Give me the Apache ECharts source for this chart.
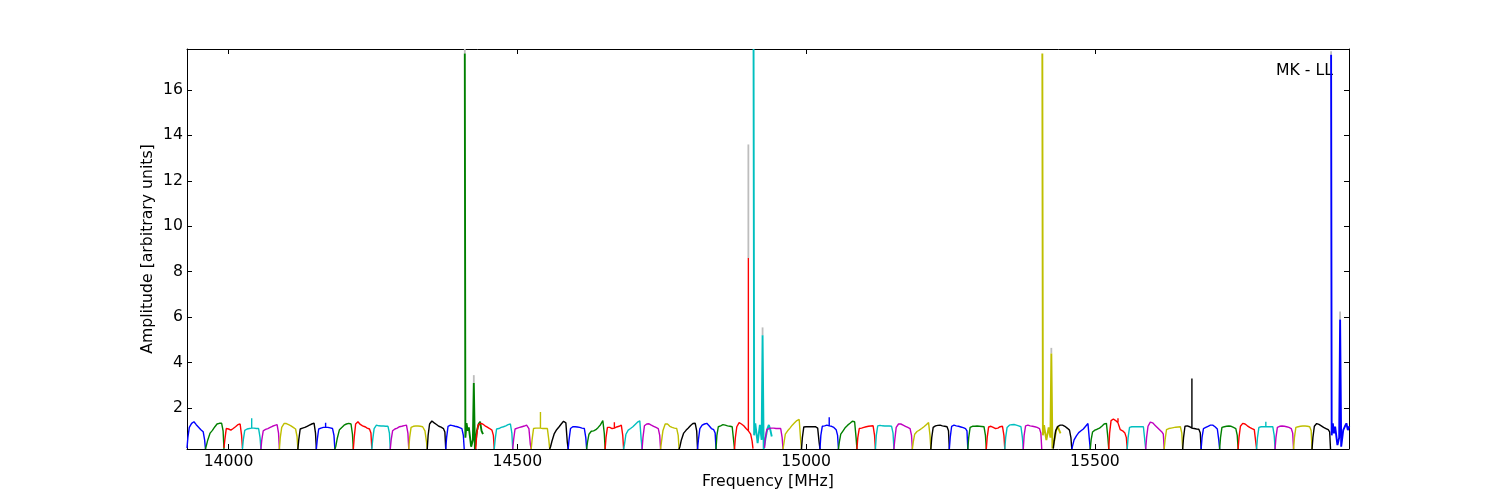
<!DOCTYPE html>
<html><head><meta charset="utf-8">
<script src="https://cdn.jsdelivr.net/npm/echarts@6/dist/echarts.min.js"></script>
<style>html,body{margin:0;padding:0;background:#fff}#c{width:1500px;height:500px}</style>
</head><body><div id="c"></div>
<script>
// ---------- data ----------
const colorCycle = ['#0000ff','#008000','#ff0000','#00bfbf','#bf00bf','#bfbf00','#000000'];
const xTicks = [14000, 14500, 15000, 15500];
const yTicks = [2, 4, 6, 8, 10, 12, 14, 16];
const xRange = [13928, 15940];
const yRange = [0.2, 17.8];

// channel start frequencies (MHz)
const chanStart = [
  13928, 13960, 13992, 14024, 14056, 14088, 14120, 14152, 14184, 14216, 14248, 14280, 14312, 14344, 14376, 14409,
  14428, 14460, 14492, 14524, 14556, 14588, 14620, 14652, 14684, 14716, 14748, 14780, 14812, 14844, 14876, 14909,
  14928, 14960, 14992, 15024, 15056, 15088, 15120, 15152, 15184, 15216, 15248, 15280, 15312, 15344, 15376, 15409,
  15428, 15460, 15492, 15524, 15556, 15588, 15620, 15652, 15684, 15716, 15748, 15780, 15812, 15844, 15876, 15909
];
const wigglyChannels = [15, 31, 47, 63];
// sample offsets inside a channel (MHz)
const normalOffsets = [0, 1.5, 4, 8, 12, 16, 20, 24, 28, 30.5, 32];
const wigglyOffsets = [0, 1, 3, 5, 7, 11, 14, 15.6, 17.5, 21, 24, 26.5, 29, 31.5];

const chanValuesA = [
  [0.24, 0.7, 1.15, 1.33, 1.40, 1.27, 1.16, 1.05, 0.96, 0.6, 0.2],
  [0.2, 0.35, 0.6, 0.9, 1.02, 1.17, 1.3, 1.33, 1.33, 1.0, 0.2],
  [0.25, 0.6, 1.1, 1.08, 1.03, 1.1, 1.18, 1.27, 1.3, 0.8, 0.25],
  [0.2, 0.6, 1.02, 1.08, 1.1, 1.12, 1.12, 1.1, 1.1, 0.7, 0.2],
  [0.2, 0.6, 1.0, 1.06, 1.1, 1.15, 1.2, 1.24, 1.27, 0.9, 0.2],
  [0.2, 0.7, 1.15, 1.32, 1.32, 1.27, 1.22, 1.15, 1.08, 0.75, 0.2],
  [0.2, 0.6, 1.08, 1.12, 1.15, 1.2, 1.25, 1.3, 1.34, 0.9, 0.2],
  [0.2, 0.6, 1.08, 1.12, 1.15, 1.16, 1.15, 1.13, 1.1, 0.8, 0.2],
  [0.2, 0.3, 0.65, 1.05, 1.15, 1.25, 1.3, 1.33, 1.3, 0.85, 0.2],
  [0.2, 0.7, 1.3, 1.4, 1.28, 1.22, 1.18, 1.12, 1.08, 0.9, 0.22],
  [0.2, 0.6, 1.1, 1.25, 1.22, 1.21, 1.21, 1.2, 1.2, 0.9, 0.2],
  [0.2, 0.6, 1.0, 1.08, 1.12, 1.18, 1.2, 1.23, 1.25, 0.9, 0.2],
  [0.2, 0.7, 1.15, 1.2, 1.21, 1.21, 1.2, 1.18, 1.0, 0.55, 0.2],
  [0.2, 0.8, 1.3, 1.43, 1.35, 1.28, 1.2, 1.16, 1.1, 0.95, 0.2],
  [0.2, 0.7, 1.2, 1.25, 1.23, 1.2, 1.18, 1.14, 1.1, 0.8, 0.2],
  [17.6, 0.7, 1.34, 1.0, 1.15, 0.3, 0.6, 3.1, 0.2, 1.0, 1.3, 1.4, 1.0, 0.85]
];
const chanValuesB = [
  [0.2, 0.8, 1.25, 1.33, 1.3, 1.22, 1.16, 1.1, 1.03, 0.8, 0.2],
  [0.2, 0.6, 1.08, 1.1, 1.15, 1.18, 1.22, 1.27, 1.3, 0.9, 0.2],
  [0.2, 0.6, 1.08, 1.12, 1.15, 1.18, 1.21, 1.25, 1.1, 0.4, 0.2],
  [0.2, 0.6, 1.1, 1.12, 1.12, 1.12, 1.1, 1.1, 1.1, 0.6, 0.2],
  [0.2, 0.3, 0.55, 0.88, 1.05, 1.17, 1.3, 1.42, 1.35, 0.5, 0.2],
  [0.2, 0.6, 1.1, 1.18, 1.18, 1.17, 1.15, 1.12, 1.1, 0.7, 0.2],
  [0.2, 0.5, 0.85, 0.98, 1.0, 1.05, 1.15, 1.27, 1.45, 0.9, 0.2],
  [0.2, 0.7, 1.15, 1.15, 1.1, 1.12, 1.17, 1.2, 1.25, 0.8, 0.2],
  [0.2, 0.4, 0.85, 1.03, 1.1, 1.18, 1.28, 1.38, 1.44, 0.6, 0.2],
  [0.2, 0.7, 1.22, 1.3, 1.31, 1.25, 1.2, 1.15, 1.1, 0.8, 0.2],
  [0.2, 0.5, 1.0, 1.3, 1.3, 1.2, 1.15, 1.12, 1.1, 0.8, 0.2],
  [0.2, 0.3, 0.6, 0.9, 1.02, 1.12, 1.23, 1.32, 1.33, 1.0, 0.2],
  [0.2, 0.6, 1.1, 1.25, 1.3, 1.33, 1.22, 1.1, 1.05, 0.9, 0.2],
  [0.2, 0.8, 1.18, 1.22, 1.27, 1.25, 1.22, 1.2, 1.18, 1.1, 0.2],
  [0.2, 0.7, 1.18, 1.36, 1.3, 1.22, 1.1, 1.0, 0.85, 0.55, 0.22],
  [17.8, 0.8, 1.33, 0.9, 0.46, 1.26, 0.6, 5.2, 0.2, 0.7, 1.1, 1.26, 1.05, 0.75]
];
const chanValuesC = [
  [0.25, 0.7, 1.05, 1.1, 1.12, 1.12, 1.1, 1.1, 1.1, 0.7, 0.2],
  [0.2, 0.45, 0.85, 1.0, 1.12, 1.25, 1.35, 1.45, 1.5, 0.6, 0.2],
  [0.2, 0.7, 1.17, 1.18, 1.18, 1.18, 1.18, 1.18, 1.12, 0.5, 0.2],
  [0.2, 0.8, 1.2, 1.22, 1.25, 1.22, 1.2, 1.15, 1.05, 0.8, 0.2],
  [0.2, 0.5, 0.85, 1.0, 1.15, 1.25, 1.33, 1.42, 1.4, 0.7, 0.2],
  [0.2, 0.7, 1.1, 1.12, 1.15, 1.18, 1.2, 1.21, 1.22, 0.8, 0.2],
  [0.2, 0.8, 1.22, 1.24, 1.22, 1.21, 1.21, 1.21, 1.2, 0.9, 0.2],
  [0.2, 0.6, 1.15, 1.3, 1.3, 1.25, 1.2, 1.15, 1.1, 0.8, 0.2],
  [0.2, 0.5, 0.85, 0.97, 1.03, 1.1, 1.18, 1.27, 1.36, 0.8, 0.2],
  [0.2, 0.7, 1.15, 1.22, 1.24, 1.25, 1.22, 1.2, 1.18, 1.0, 0.2],
  [0.2, 0.7, 1.2, 1.25, 1.22, 1.2, 1.17, 1.14, 1.1, 1.0, 0.2],
  [0.2, 0.7, 1.15, 1.2, 1.2, 1.21, 1.2, 1.19, 1.18, 0.8, 0.2],
  [0.2, 0.7, 1.17, 1.2, 1.15, 1.1, 1.12, 1.18, 1.2, 0.8, 0.2],
  [0.2, 0.7, 1.15, 1.25, 1.27, 1.28, 1.25, 1.22, 1.18, 0.7, 0.2],
  [0.2, 0.8, 1.22, 1.25, 1.22, 1.2, 1.18, 1.15, 1.1, 0.9, 0.2],
  [17.6, 0.8, 1.25, 0.9, 0.59, 1.15, 0.7, 4.4, 0.22, 0.6, 1.03, 1.2, 1.25, 0.89]
];
const chanValuesD = [
  [0.22, 0.55, 1.0, 1.2, 1.25, 1.25, 1.2, 1.12, 1.03, 0.7, 0.2],
  [0.2, 0.35, 0.6, 0.78, 0.92, 1.0, 1.08, 1.2, 1.32, 0.6, 0.2],
  [0.2, 0.6, 0.95, 1.03, 1.07, 1.12, 1.2, 1.3, 1.33, 0.7, 0.2],
  [0.2, 0.9, 1.45, 1.52, 1.45, 1.35, 1.05, 1.0, 0.9, 0.7, 0.2],
  [0.2, 0.7, 1.15, 1.18, 1.18, 1.18, 1.18, 1.18, 1.18, 1.1, 0.2],
  [0.2, 0.7, 1.2, 1.38, 1.35, 1.25, 1.15, 1.05, 0.95, 0.85, 0.2],
  [0.2, 0.6, 1.05, 1.1, 1.12, 1.14, 1.16, 1.17, 1.18, 0.9, 0.2],
  [0.2, 0.7, 1.2, 1.22, 1.18, 1.12, 1.1, 1.08, 1.07, 0.9, 0.2],
  [0.2, 0.7, 1.1, 1.15, 1.2, 1.25, 1.25, 1.18, 1.08, 0.6, 0.2],
  [0.2, 0.7, 1.15, 1.18, 1.2, 1.21, 1.2, 1.15, 1.1, 0.8, 0.2],
  [0.2, 0.7, 1.2, 1.33, 1.3, 1.22, 1.15, 1.1, 1.05, 0.98, 0.2],
  [0.2, 0.7, 1.15, 1.18, 1.18, 1.18, 1.18, 1.18, 1.18, 0.8, 0.2],
  [0.2, 0.7, 1.15, 1.2, 1.21, 1.2, 1.18, 1.15, 1.1, 0.9, 0.2],
  [0.2, 0.7, 1.15, 1.18, 1.2, 1.21, 1.21, 1.2, 1.18, 1.0, 0.2],
  [0.2, 0.7, 1.2, 1.32, 1.28, 1.22, 1.15, 1.1, 1.05, 0.95, 0.2],
  [17.55, 0.8, 1.33, 0.89, 1.18, 0.37, 0.7, 5.9, 0.3, 1.03, 1.2, 1.33, 1.03, 1.2]
];
// narrow spikes in normal channels: [channel, offset MHz, peak]
const spikes = [
  [3, 16, 1.55], [7, 16, 1.35], [19, 16, 1.83], [23, 16, 1.38], [30, 24, 8.6],
  [35, 16, 1.6], [51, 16, 1.55], [55, 16, 3.3], [59, 16, 1.4]
];
// grey trace visible above the coloured spikes: [freq, from, to]
const greySpikes = [
  [14409, 17.6, 17.8], [14424.6, 3.1, 3.45], [14900, 8.6, 13.6], [14924.6, 5.2, 5.55],
  [15424.6, 4.4, 4.65], [15909, 17.55, 17.7], [15924.6, 5.9, 6.25]
];
const cornerLabel = 'MK - LL';

// ---------- chart ----------
const FONT = 'DejaVu Sans';
const allValues = chanValuesA.concat(chanValuesB, chanValuesC, chanValuesD);
const series = [];
greySpikes.forEach(g => {
  series.push({ type: 'line', data: [[g[0], g[1]], [g[0], g[2]]], symbol: 'none',
    lineStyle: { color: '#bdbdbd', width: 1.8 }, silent: true });
});
allValues.forEach((vals, i) => {
  const wiggly = wigglyChannels.includes(i);
  const offs = wiggly ? wigglyOffsets : normalOffsets;
  const pts = [];
  vals.forEach((v, k) => {
    const f = chanStart[i] + offs[k];
    pts.push([f, v]);
    spikes.filter(s => s[0] === i && s[1] === offs[k]).forEach(s => {
      pts.push([f, s[2]]);
      pts.push([f, v]);
    });
  });
  series.push({ type: 'line', data: pts, symbol: 'none', silent: true,
    lineStyle: { color: colorCycle[i % 7], width: wiggly ? 1.9 : 1.4 } });
});

const tickStyle = { show: true, inside: true, length: 5, lineStyle: { color: '#000', width: 1 } };
const lineStyleAx = { show: true, onZero: false, lineStyle: { color: '#000', width: 1 } };
const plainNum = v => String(v);
const chart = echarts.init(document.getElementById('c'), null, { renderer: 'canvas' });
chart.setOption({
  animation: false,
  backgroundColor: '#fff',
  grid: { left: 187, right: 151, top: 49, bottom: 51, containLabel: false },
  xAxis: [
    { type: 'value', min: xRange[0], max: xRange[1], position: 'bottom',
      axisLine: lineStyleAx, axisTick: Object.assign({ customValues: xTicks }, tickStyle),
      axisLabel: { customValues: xTicks, formatter: plainNum, color: '#000', fontSize: 15.7, fontFamily: FONT, margin: 5 },
      splitLine: { show: false },
      name: 'Frequency [MHz]', nameLocation: 'middle', nameGap: 25, nameMoveOverlap: false,
      nameTextStyle: { color: '#000', fontSize: 15.7, fontFamily: FONT } },
    { type: 'value', min: xRange[0], max: xRange[1], position: 'top',
      axisLine: lineStyleAx, axisTick: Object.assign({ customValues: xTicks }, tickStyle),
      axisLabel: { show: false }, splitLine: { show: false } }
  ],
  yAxis: [
    { type: 'value', min: yRange[0], max: yRange[1], position: 'left',
      axisLine: lineStyleAx, axisTick: Object.assign({ customValues: yTicks }, tickStyle),
      axisLabel: { customValues: yTicks, formatter: plainNum, color: '#000', fontSize: 15.7, fontFamily: FONT, margin: 4 },
      splitLine: { show: false },
      name: 'Amplitude [arbitrary units]', nameLocation: 'middle', nameGap: 31, nameMoveOverlap: false,
      nameTextStyle: { color: '#000', fontSize: 15.7, fontFamily: FONT } },
    { type: 'value', min: yRange[0], max: yRange[1], position: 'right',
      axisLine: lineStyleAx, axisTick: Object.assign({ customValues: yTicks }, tickStyle),
      axisLabel: { show: false }, splitLine: { show: false } }
  ],
  graphic: [{ type: 'text', left: 1276, top: 63,
    style: { text: cornerLabel, fill: '#000', fontSize: 15.7, fontFamily: FONT } }],
  series: series
});
</script></body></html>
